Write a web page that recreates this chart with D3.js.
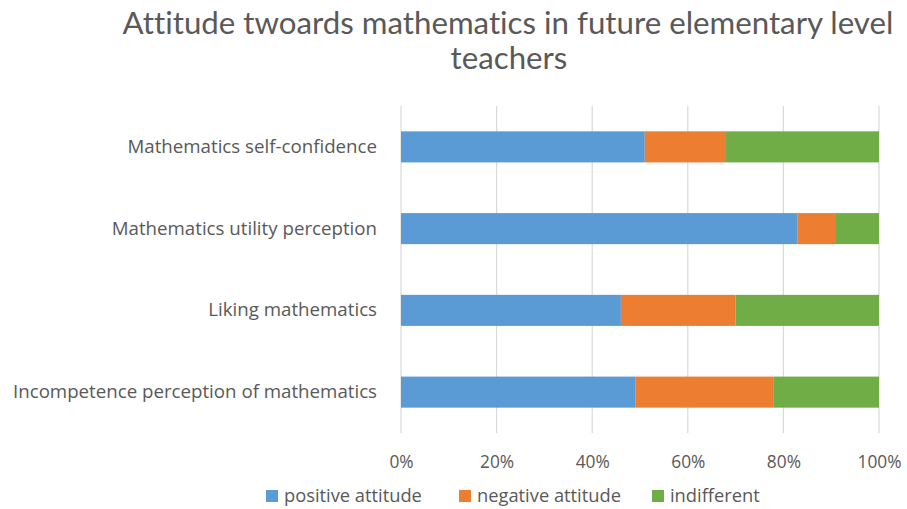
<!DOCTYPE html>
<html>
<head>
<meta charset="utf-8">
<script src="https://cdn.jsdelivr.net/npm/d3@7"></script>
<style>
  html, body { margin: 0; padding: 0; background: #fff; }
  svg { display: block; }
  text { font-family: "Open Sans", sans-serif; fill: #595959; font-variant-ligatures: none; }
</style>
</head>
<body>
<svg id="chart" width="907" height="509"></svg>
<script>
const categories = [
  "Mathematics self-confidence",
  "Mathematics utility perception",
  "Liking mathematics",
  "Incompetence perception of mathematics"
];
const seriesNames = ["positive attitude", "negative attitude", "indifferent"];
const positive = [51, 83, 46, 49];
const negative = [17, 8, 24, 29];
const indifferent = [32, 9, 30, 22];
const tickValues = [0, 20, 40, 60, 80, 100];
const colors = ["#5B9BD5", "#ED7D31", "#70AD47"];
const titleLines = ["Attitude twoards mathematics in future elementary level", "teachers"];

const svg = d3.select("#chart");
const W = 907, H = 509;
svg.append("rect").attr("width", W).attr("height", H).attr("fill", "#fff");

const plot = { left: 401, right: 879, top: 106, bottom: 433 };

const x = d3.scaleLinear().domain([0, 100]).range([plot.left, plot.right]);
const y = d3.scaleBand().domain(categories).range([plot.top, plot.bottom]).paddingInner(0.62).paddingOuter(0.31);

// fit font size helper
function fit(sel, target) {
  const node = sel.node();
  const base = parseFloat(sel.attr("font-size"));
  const w = node.getComputedTextLength();
  sel.attr("font-size", (base * target / w).toFixed(2));
}

// Title
const t1 = svg.append("text").attr("x", 508).attr("y", 34).attr("text-anchor", "middle")
  .style("font-family", "Lato, sans-serif")
  .attr("font-size", 27).text(titleLines[0]);
fit(t1, 771);
const tsize = t1.attr("font-size");
svg.append("text").attr("x", 509).attr("y", 69).attr("text-anchor", "middle")
  .style("font-family", "Lato, sans-serif")
  .attr("font-size", tsize).text(titleLines[1]);

// Gridlines
const grid = svg.append("g");
grid.selectAll("line").data(tickValues).join("line")
  .attr("x1", d => x(d)).attr("x2", d => x(d))
  .attr("y1", plot.top).attr("y2", plot.bottom)
  .attr("stroke", "#D9D9D9").attr("stroke-width", 1.2);

// Stack data
const table = categories.map((c, i) => ({
  cat: c,
  "positive attitude": positive[i],
  "negative attitude": negative[i],
  "indifferent": indifferent[i]
}));
const stack = d3.stack().keys(seriesNames)(table);

svg.append("g").selectAll("g").data(stack).join("g")
  .attr("fill", (d, i) => colors[i])
  .selectAll("rect").data(d => d).join("rect")
  .attr("x", d => x(d[0]))
  .attr("width", d => x(d[1]) - x(d[0]))
  .attr("y", d => y(d.data.cat))
  .attr("height", y.bandwidth());

// X axis labels
const xAxis = d3.axisBottom(x).tickValues(tickValues).tickFormat(d => d + "%").tickSize(0).tickPadding(0);
const xg = svg.append("g").attr("transform", `translate(0,${plot.bottom})`).call(xAxis);
xg.select(".domain").remove();
xg.selectAll("text").attr("y", 29).attr("dy", "0.35em")
  .attr("font-size", 16).attr("font-family", '"Open Sans", sans-serif').attr("fill", "#595959");
const lastTick = xg.selectAll("text").filter(d => d === 100);
fit(lastTick, 44);
const tickSize = lastTick.attr("font-size");
xg.selectAll("text").attr("font-size", tickSize);

// Y axis labels
const yAxis = d3.axisLeft(y).tickSize(0).tickPadding(0);
const yg = svg.append("g").attr("transform", `translate(377,0)`).call(yAxis);
yg.select(".domain").remove();
yg.selectAll("text").attr("font-size", 16).attr("font-family", '"Open Sans", sans-serif').attr("fill", "#595959");
const longest = yg.selectAll("text").filter(d => d === categories[3]);
fit(longest, 364);
yg.selectAll("text").attr("font-size", longest.attr("font-size"));

// Legend
const legendX = [266, 459, 652];
const lg = svg.append("g");
seriesNames.forEach((name, i) => {
  lg.append("rect").attr("x", legendX[i]).attr("y", 490).attr("width", 12).attr("height", 12).attr("fill", colors[i]);
  const lt = lg.append("text").attr("x", legendX[i] + 18).attr("y", 496).attr("dy", "0.35em")
    .attr("font-size", 16).text(name);
  if (i === 0) fit(lt, 138);
});
const lsize = lg.selectAll("text").filter((d, i) => i === 0).attr("font-size");
lg.selectAll("text").attr("font-size", lsize);
</script>
</body>
</html>
